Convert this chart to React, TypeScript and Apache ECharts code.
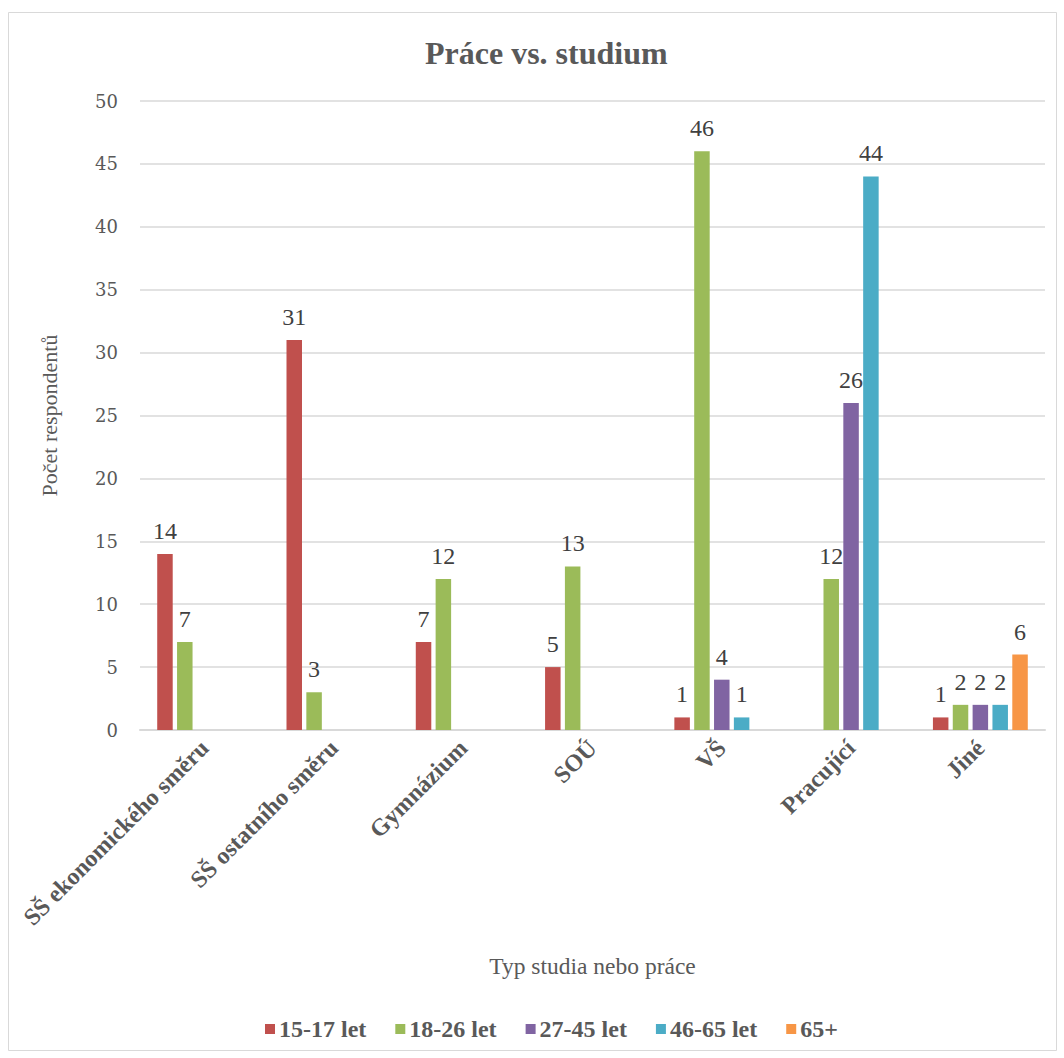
import React, { useEffect, useRef } from "react";
import * as echarts from "echarts";

const categories = [
  "SŠ ekonomického směru",
  "SŠ ostatního směru",
  "Gymnázium",
  "SOÚ",
  "VŠ",
  "Pracující",
  "Jiné",
];
const seriesNames = ["15-17 let", "18-26 let", "27-45 let", "46-65 let", "65+"];
const s15_17 = [14, 31, 7, 5, 1, null, 1];
const s18_26 = [7, 3, 12, 13, 46, 12, 2];
const s27_45 = [null, null, null, null, 4, 26, 2];
const s46_65 = [null, null, null, null, 1, 44, 2];
const s65plus = [null, null, null, null, null, null, 6];
const colors = ["#C0504D", "#9BBB59", "#8064A2", "#4BACC6", "#F79646"];

export default function App() {
  const ref = useRef<HTMLDivElement>(null);
  useEffect(() => {
    if (!ref.current) return;
    const chart = echarts.init(ref.current, undefined, { renderer: "svg" });
    const allData = [s15_17, s18_26, s27_45, s46_65, s65plus];
    chart.setOption({
      animation: false,
      backgroundColor: "#ffffff",
      title: {
        text: "Práce vs. studium",
        left: 420,
        top: 32,
        textStyle: {
          fontFamily: "Liberation Serif",
          fontWeight: "bold",
          fontSize: 32,
          color: "#595959",
        },
      },
      graphic: [
        {
          type: "rect",
          shape: { x: 8.5, y: 12.5, width: 1048, height: 1038 },
          style: { fill: "none", stroke: "#d9d9d9", lineWidth: 1 },
          silent: true,
        },
      ],
      legend: {
        bottom: 12,
        left: 260,
        itemWidth: 10,
        itemHeight: 10,
        itemGap: 29,
        icon: "rect",
        data: seriesNames,
        textStyle: {
          fontFamily: "Liberation Serif",
          fontWeight: "bold",
          fontSize: 24,
          color: "#595959",
          padding: [0, 0, 0, -1],
        },
      },
      grid: { left: 140, right: 19, top: 101, bottom: 328 },
      xAxis: {
        type: "category",
        data: categories,
        name: "Typ studia nebo práce",
        nameLocation: "middle",
        nameGap: 224,
        nameTextStyle: {
          fontFamily: "Liberation Serif",
          fontSize: 23.5,
          color: "#595959",
        },
        axisLine: { lineStyle: { color: "#d9d9d9", width: 2 } },
        axisTick: { show: false },
        axisLabel: {
          rotate: 45,
          margin: 14,
          interval: 0,
          fontFamily: "Liberation Serif",
          fontWeight: "bold",
          fontSize: 24,
          color: "#595959",
        },
      },
      yAxis: {
        type: "value",
        min: 0,
        max: 50,
        interval: 5,
        name: "Počet respondentů",
        nameLocation: "middle",
        nameGap: 80,
        nameTextStyle: {
          fontFamily: "Liberation Serif",
          fontSize: 22,
          color: "#595959",
        },
        axisLine: { show: false },
        axisTick: { show: false },
        axisLabel: {
          margin: 22,
          fontFamily: "DejaVu Serif",
          fontSize: 18,
          color: "#595959",
        },
        splitLine: { lineStyle: { color: "#d9d9d9", width: 1.5 } },
      },
      series: seriesNames.map((name, i) => ({
        name,
        type: "bar",
        data: allData[i],
        barWidth: 15.5,
        barGap: "28%",
        itemStyle: { color: colors[i] },
        label: {
          show: true,
          position: "top",
          distance: 11,
          fontFamily: "Liberation Serif",
          fontSize: 24,
          color: "#404040",
        },
      })),
    });
    return () => chart.dispose();
  }, []);
  return (
    <div
      ref={ref}
      style={{ position: "absolute", left: 0, top: 0, width: 1064, height: 1058 }}
    />
  );
}
